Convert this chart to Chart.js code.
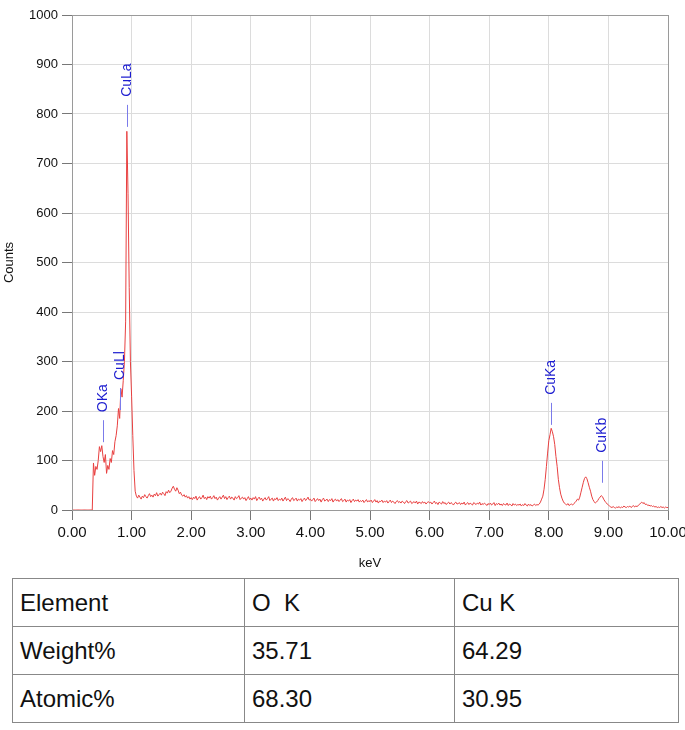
<!DOCTYPE html>
<html>
<head>
<meta charset="utf-8">
<script src="https://cdn.jsdelivr.net/npm/chart.js@4/dist/chart.umd.min.js"></script>
<style>
  body { margin: 0; background: #fff; font-family: "Liberation Sans", Arial, sans-serif; }
  #wrap { position: relative; width: 685px; height: 730px; }
  #spec { position: absolute; left: 0; top: 0; }
  table { position: absolute; left: 12px; top: 578px; border-collapse: collapse; }
  td { border: 1px solid #888; height: 47px; padding: 0 0 0 7px; font-size: 24px; color: #111; white-space: pre; }
</style>
</head>
<body>
<div id="wrap">
  <canvas id="spec" width="685" height="575"></canvas>
  <table id="resultTable"></table>
</div>
<script>
// spectrum, one count value every 0.02 keV from 0.00 to 10.00
const keVStep = 0.02;
const counts = [
  0,0,0,0,0,0,0,0,0,0,0,0,0,0,0,0,0,0,95,70,88,82,100,128,118,
  130,108,96,112,74,90,82,104,96,120,112,138,150,170,205,185,245,228,262,300,380,765,640,450,300,
  230,150,80,38,28,24,30,26,22,28,25,31,27,24,29,33,27,30,26,32,29,35,28,31,34,
  30,36,33,29,37,34,40,35,38,44,48,42,38,45,40,33,36,30,28,31,26,29,24,27,22,
  25,21,26,23,28,20,24,27,22,25,30,23,26,21,27,24,28,22,25,29,23,26,20,24,27,
  22,26,30,23,27,21,25,28,22,26,24,20,27,23,25,29,21,24,26,22,25,19,23,27,21,
  24,20,25,22,27,19,23,26,21,24,18,22,25,20,23,27,19,22,24,18,23,21,25,19,22,
  20,24,18,22,26,19,23,21,17,22,25,19,21,24,18,22,20,23,17,21,24,19,22,26,20,
  22,18,21,24,17,20,23,19,22,16,21,24,18,20,22,17,21,19,23,16,20,22,18,21,17,
  20,23,17,19,22,16,20,18,21,15,19,22,17,20,18,21,16,19,17,20,15,18,21,16,19,
  17,20,15,18,21,16,19,14,18,17,20,15,18,16,19,14,17,20,15,18,16,13,17,19,15,
  17,14,18,16,13,17,19,14,16,18,13,15,17,14,18,12,16,15,13,17,14,16,12,15,17,
  14,16,12,15,18,13,15,11,16,14,12,17,13,15,11,14,16,12,15,13,10,14,16,12,13,
  15,11,14,12,16,10,13,15,11,14,12,10,15,13,11,14,12,16,10,13,11,14,12,9,13,
  11,14,10,12,15,9,13,11,14,10,12,9,13,11,10,14,9,12,11,8,13,10,12,9,11,
  10,12,8,11,9,13,10,8,12,9,11,8,10,12,9,11,10,12,16,22,28,42,62,88,115,
  140,152,165,158,148,132,108,88,62,45,32,24,18,14,12,10,13,9,11,12,10,13,15,18,22,
  20,26,36,46,56,64,67,63,55,46,38,28,21,17,14,16,19,23,26,29,27,22,18,15,12,
  10,8,6,5,7,5,4,6,5,7,4,6,5,8,6,5,7,6,8,5,7,9,6,8,7,
  9,11,14,16,13,15,11,12,9,10,8,9,7,8,6,7,5,6,5,7,5,6,4,6,5,
  5
];

// peak markers
const peakNames = ['OKa', 'CuLl', 'CuLa', 'CuKa', 'CuKb'];
const peakKeV = [0.52, 0.81, 0.93, 8.04, 8.90];
const peakMarkCounts = [137, 202, 774, 172, 55];

// quantification table
const tableHead = ['Element', 'O  K', 'Cu K'];
const weightPct = ['35.71', '64.29'];
const atomicPct = ['68.30', '30.95'];

const points = counts.map((c, i) => ({ x: +(i * keVStep).toFixed(2), y: c }));

const peakLabelPlugin = {
  id: 'peakLabels',
  afterDatasetsDraw(chart) {
    const ctx = chart.ctx;
    const xs = chart.scales.x;
    const ys = chart.scales.y;
    ctx.save();
    for (let i = 0; i < peakNames.length; i++) {
      const px = Math.round(xs.getPixelForValue(peakKeV[i])) + 0.5;
      const py = ys.getPixelForValue(peakMarkCounts[i]);
      ctx.strokeStyle = '#7b7bea';
      ctx.lineWidth = 1;
      ctx.beginPath();
      ctx.moveTo(px, py);
      ctx.lineTo(px, py - 22);
      ctx.stroke();
      ctx.translate(px, py - 30);
      ctx.rotate(-Math.PI / 2);
      ctx.fillStyle = '#1c1cd0';
      ctx.font = '14px "Liberation Sans", Arial, sans-serif';
      ctx.textAlign = 'left';
      ctx.textBaseline = 'middle';
      ctx.fillText(peakNames[i], 0, 0);
      ctx.setTransform(1, 0, 0, 1, 0, 0);
    }
    // frame round the plot
    const a = chart.chartArea;
    ctx.strokeStyle = '#9a9a9a';
    ctx.strokeRect(a.left + 0.5, a.top + 0.5, a.right - a.left, a.bottom - a.top);
    ctx.restore();
  }
};

const canvas = document.getElementById('spec');
new Chart(canvas, {
  type: 'line',
  data: {
    datasets: [{
      data: points,
      borderColor: 'rgb(232,64,64)',
      borderWidth: 1,
      pointRadius: 0,
      tension: 0,
      fill: false
    }]
  },
  options: {
    responsive: false,
    animation: false,
    layout: { padding: { top: 15, right: 17, left: 0, bottom: 0 } },
    plugins: { legend: { display: false }, tooltip: { enabled: false } },
    scales: {
      x: {
        type: 'linear',
        min: 0,
        max: 10,
        afterFit(scale) {
          scale.height = 65;
          scale.paddingLeft = 0;
          scale.paddingRight = 0;
        },
        ticks: {
          stepSize: 1,
          autoSkip: false,
          maxRotation: 0,
          padding: 4,
          color: '#111',
          font: { size: 15, family: '"Liberation Sans Narrow", "Liberation Sans", Arial, sans-serif' },
          callback: v => v.toFixed(2)
        },
        grid: { color: '#dcdcdc', tickColor: '#777', tickLength: 10 },
        border: { color: '#777' },
        title: {
          display: true,
          text: 'keV',
          color: '#111',
          font: { size: 13, family: '"Liberation Sans", Arial, sans-serif' },
          padding: { top: 6, bottom: 4 }
        }
      },
      y: {
        min: 0,
        max: 1000,
        afterFit(scale) { scale.width = 72; },
        ticks: {
          stepSize: 100,
          padding: 4,
          color: '#111',
          font: { size: 13, family: '"Liberation Sans", Arial, sans-serif' },
          callback: v => String(v)
        },
        grid: { color: '#dcdcdc', tickColor: '#777', tickLength: 10 },
        border: { color: '#777' },
        title: {
          display: true,
          text: 'Counts',
          color: '#111',
          font: { size: 13, family: '"Liberation Sans", Arial, sans-serif' },
          padding: { top: 2, bottom: 2 }
        }
      }
    }
  },
  plugins: [peakLabelPlugin]
});

function makeRow(label, vals) {
  const tr = document.createElement('tr');
  const cells = [label].concat(vals);
  const widths = [232, 210, 224];
  cells.forEach((t, j) => {
    const td = document.createElement('td');
    td.style.width = (widths[j] - 8) + 'px';
    td.textContent = t;
    tr.appendChild(td);
  });
  return tr;
}

const tbl = document.getElementById('resultTable');
tbl.appendChild(makeRow(tableHead[0], tableHead.slice(1)));
tbl.appendChild(makeRow('Weight%', weightPct));
tbl.appendChild(makeRow('Atomic%', atomicPct));
</script>
</body>
</html>
